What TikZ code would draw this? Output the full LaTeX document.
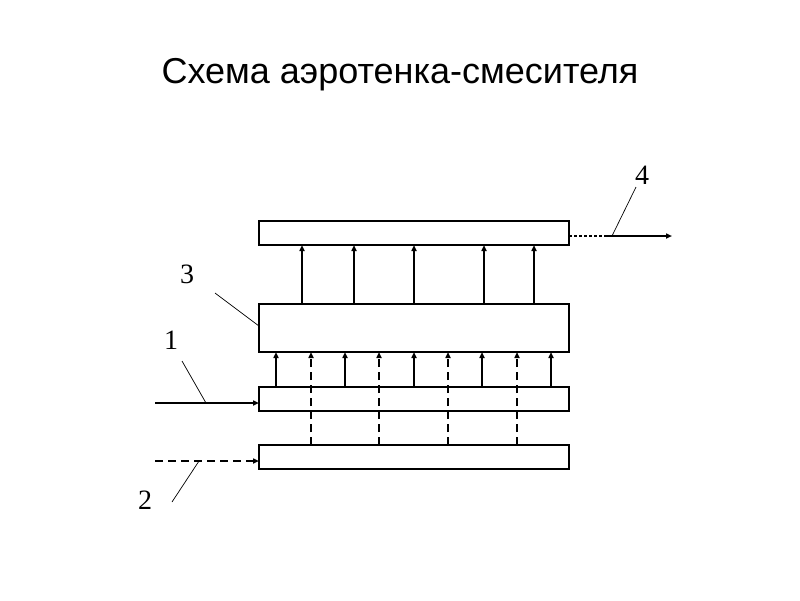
\documentclass[tikz,border=0pt]{standalone}
\usepackage{fontspec}
\setmainfont{Liberation Serif}
\newfontfamily\titlefont{Liberation Sans}
\usetikzlibrary{arrows.meta}
\begin{document}
\begin{tikzpicture}[x=1pt,y=-1pt,
  tank/.style={draw,line width=2pt},
  flow/.style={line width=2pt,-{Triangle[length=6pt,width=5pt]}},
  airflow/.style={line width=2pt,dash pattern=on 8pt off 5pt,-{Triangle[length=6pt,width=5pt]}},
  leader/.style={line width=0.7pt},
  lbl/.style={font=\fontsize{28}{32}\selectfont,inner sep=0pt}]
\useasboundingbox (0,0) rectangle (800,600);
\node[font=\titlefont\fontsize{36}{42}\selectfont] (title) at (400,75) {Схема аэротенка-смесителя};
% tanks
\path[tank] (259,221) rectangle (569,245);
\path[tank] (259,304) rectangle (569,352);
\path[tank] (259,387) rectangle (569,411);
\path[tank] (259,445) rectangle (569,469);
% arrows middle -> top
\foreach \x in {302,354,414,484,534} {
  \coordinate (a\x) at (\x,304); \coordinate (b\x) at (\x,245);
  \draw[flow] (a\x) -- (b\x);
}
% arrows box1 -> middle (solid)
\foreach \x in {276,345,414,482,551} {
  \coordinate (c\x) at (\x,387); \coordinate (d\x) at (\x,352);
  \draw[flow] (c\x) -- (d\x);
}
% dashed air arrows box2 -> middle
\foreach \x in {311,379,448,517} {
  \coordinate (e\x) at (\x,445); \coordinate (f\x) at (\x,352);
  \draw[airflow] (e\x) -- (f\x);
}
% input 1
\coordinate (in1s) at (155,403); \coordinate (in1e) at (259,403);
\draw[flow] (in1s) -- (in1e);
% input 2
\coordinate (in2s) at (155,461); \coordinate (in2e) at (259,461);
\draw[airflow] (in2s) -- (in2e);
% output 4
\coordinate (out0) at (569,236); \coordinate (out1) at (605,236); \coordinate (out2) at (672,236);
\draw[line width=2pt,dash pattern=on 3pt off 2pt] (out0) -- (out1);
\draw[flow] (out1) -- (out2);
% labels
\node[lbl] (l1) at (171,340.5) {1};
\node[lbl] (l2) at (145,500) {2};
\node[lbl] (l3) at (187,274.5) {3};
\node[lbl] (l4) at (642,175.5) {4};
\coordinate (p1a) at (182,361); \coordinate (p1b) at (206,403);
\coordinate (p2a) at (172,502); \coordinate (p2b) at (199,461);
\coordinate (p3a) at (215,293); \coordinate (p3b) at (259,326);
\coordinate (p4a) at (636,187); \coordinate (p4b) at (612,236);
\draw[leader] (p1a) -- (p1b);
\draw[leader] (p2a) -- (p2b);
\draw[leader] (p3a) -- (p3b);
\draw[leader] (p4a) -- (p4b);
\end{tikzpicture}
\end{document}
